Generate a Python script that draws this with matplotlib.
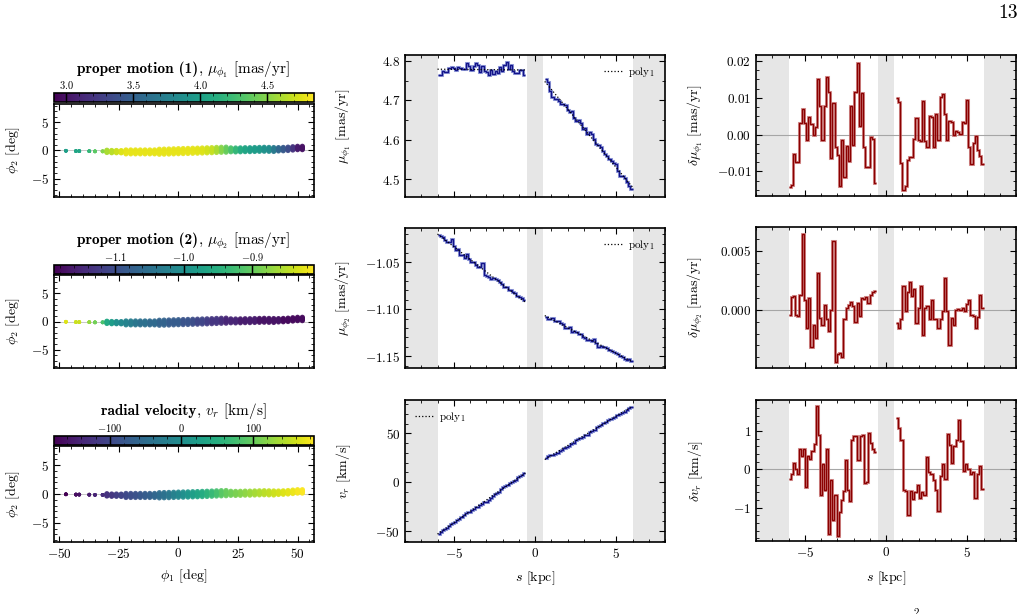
import numpy as np
import matplotlib.pyplot as plt
from matplotlib.ticker import MultipleLocator, AutoMinorLocator
from matplotlib.colors import Normalize

plt.rcParams['font.family'] = 'serif'
plt.rcParams['font.serif'] = ['cmr10']
plt.rcParams['mathtext.fontset'] = 'cm'
plt.rcParams['axes.formatter.use_mathtext'] = True

# ---- stream stars (left column) ----
phi1 = [-47.2, -43.0, -41.6, -37.4, -35.0, -31.8,
        -30, -28, -26, -24, -22, -20, -18, -16, -14, -12, -10, -8, -6, -4, -2,
        0, 2, 4, 6, 8, 10, 12, 14, 16, 18, 20, 22, 24, 26, 28, 30, 32, 34, 36,
        38, 40, 42, 44, 46, 48, 50, 52]
phi2 = [-0.05, -0.1, -0.1, -0.12, -0.15, -0.15,
        -0.15, -0.2, -0.2, -0.22, -0.25, -0.25, -0.25, -0.25, -0.25, -0.25, -0.25,
        -0.22, -0.2, -0.18, -0.15, -0.12, -0.1, -0.08, -0.05, -0.03, 0.0, 0.03,
        0.06, 0.1, 0.13, 0.15, 0.12, 0.1, 0.12, 0.15, 0.15, 0.18, 0.2, 0.22,
        0.2, 0.18, 0.22, 0.25, 0.3, 0.38, 0.45, 0.45]
phi2_width = [0, 0, 0, 0, 0, 0,
              0.4, 0.4, 0.4, 0.4, 0.7, 0.7, 0.7, 0.7, 0.7, 0.7, 0.7,
              0.9, 0.9, 0.9, 0.9, 0.9, 0.9, 0.9, 0.9, 0.9, 0.9, 0.9, 0.9, 0.9, 0.9, 0.9,
              0.7, 0.7, 0.7, 0.7, 0.7, 0.7, 0.7, 0.7, 0.7, 0.7,
              0.6, 0.6, 0.6, 0.6, 0.6, 0.6]
pm1_star = [4.0, 4.05, 4.05, 4.2, 4.35, 4.5,
            4.6, 4.65, 4.7, 4.75, 4.78, 4.78, 4.78, 4.78, 4.78, 4.78, 4.78, 4.78,
            4.78, 4.78, 4.78, 4.78, 4.78, 4.78, 4.77, 4.76, 4.75, 4.72, 4.68, 4.6,
            4.5, 4.4, 4.3, 4.2, 4.1, 4.05, 4.0, 3.98, 3.95, 3.9, 3.85, 3.7, 3.55,
            3.45, 3.35, 3.2, 3.05, 3.0]
pm2_star = [-0.83, -0.84, -0.84, -0.87, -0.89, -0.92,
            -0.96, -0.98, -1.0, -1.01, -1.02, -1.03, -1.04, -1.05, -1.05, -1.06,
            -1.06, -1.07, -1.07, -1.08, -1.08, -1.08, -1.09, -1.09, -1.10, -1.11,
            -1.11, -1.12, -1.13, -1.13, -1.14, -1.15, -1.15, -1.15, -1.16, -1.16,
            -1.16, -1.16, -1.17, -1.17, -1.17, -1.17, -1.17, -1.18, -1.18, -1.18,
            -1.18, -1.18]
vr_star = [-178, -165, -162, -150, -140, -132,
           -125, -120, -112, -105, -98, -92, -86, -80, -73, -66, -58, -50, -42,
           -32, -20, -8, 3, 14, 25, 36, 46, 56, 66, 78, 90, 100, 106, 112, 118,
           124, 130, 136, 142, 147, 152, 157, 162, 166, 170, 175, 180, 183]

# ---- binned tracks along s [kpc] ----
arm_left = (-6.0, -0.6)
arm_right = (0.6, 6.0)

# poly1 fits, value at start / end of each arm
fit_pm1 = [(4.779, 4.777), (4.748, 4.480)]
fit_pm2 = [(-1.0199, -1.0924), (-1.1067, -1.1560)]
fit_vr = [(-52.9, 9.4), (23.2, 77.7)]

resid_pm1_left = [-0.0142, -0.0136, -0.0054, -0.0074, -0.0074, 0.0030, 0.0070, 0.0030,
                  -0.0014, 0.0048, 0.0028, 0.0000, 0.0020, 0.0152, 0.0077, -0.0014,
                  0.0077, 0.0157, 0.0116, -0.0065, 0.0086, -0.0035, -0.0056, -0.0140,
                  -0.0014, -0.0115, -0.0031, -0.0072, 0.0077, -0.0029, 0.0116, 0.0195,
                  0.0023, 0.0113, -0.0033, -0.0088, -0.0088, -0.0006, -0.0011, -0.0133]
resid_pm1_right = [0.0098, 0.0089, -0.0077, -0.0151, -0.0140, -0.0070, -0.0060, -0.0060,
                   -0.0011, 0.0045, -0.0014, -0.0017, 0.0091, -0.0017, -0.0033, 0.0050,
                   0.0048, -0.0035, 0.0055, -0.0016, 0.0102, 0.0111, 0.0055, -0.0014,
                   0.0037, 0.0035, 0.0000, 0.0010, 0.0008, 0.0002, 0.0034, 0.0032,
                   0.0093, -0.0035, -0.0081, -0.0024, -0.0005, -0.0041, -0.0059, -0.0079]
resid_pm2_left = [-0.0004, 0.0011, 0.0012, -0.0004, -0.0005, 0.0013, 0.0064, 0.0008,
                  -0.0015, 0.0010, -0.0031, -0.0013, -0.0024, 0.0031, -0.0007, -0.0013,
                  0.0004, -0.0008, -0.0018, 0.0000, 0.0058, -0.0044, -0.0037, -0.0036,
                  -0.0040, -0.0008, 0.0002, 0.0004, 0.0007, 0.0003, -0.0010, 0.0006,
                  -0.0005, 0.0010, 0.0009, 0.0011, 0.0006, 0.0013, 0.0015, 0.0016]
resid_pm2_right = [-0.0011, -0.0015, -0.0008, 0.0020, -0.0001, 0.0015, 0.0024, 0.0012,
                   0.0018, -0.0011, 0.0002, 0.0020, -0.0021, 0.0002, 0.0003, -0.0008,
                   0.0008, -0.0008, -0.0008, -0.0015, -0.0008, -0.0001, 0.0027, -0.0001,
                   -0.0030, -0.0007, -0.0013, 0.0000, 0.0001, 0.0000, 0.0002, -0.0001,
                   0.0005, 0.0008, -0.0004, -0.0005, -0.0015, -0.0006, 0.0013, 0.0002]
resid_vr_left = [-0.24, -0.11, 0.17, 0.0, -0.11, 0.52, 0.34, 0.52, -0.46, 0.34, 0.28,
                 0.48, 0.67, 1.65, 0.89, -0.68, 0.13, -0.53, 0.54, -1.69, -0.29, -1.32,
                 -0.68, -1.73, -1.12, -0.81, -0.57, 0.25, -0.53, -0.83, 0.76, 0.86, 0.86,
                 0.24, 0.86, 0.89, -0.36, -0.33, 0.95, 0.70, 0.54, 0.45]
resid_vr_right = [1.35, 1.07, 0.76, -0.55, -0.57, -1.20, -0.57, -0.77, -0.60, -0.42,
                  -0.74, -0.60, -0.66, 0.32, -0.07, -0.11, -0.27, -0.53, -1.09, -0.18,
                  0.13, -0.24, 0.92, 0.63, 0.17, 0.60, 0.76, 1.30, 0.74, -0.03, 0.13,
                  0.02, -0.11, -0.07, -0.74, -0.11, 0.08, -0.50]

rows = [
    dict(tbold='proper motion (1)', trest=r', $\mu_{\phi_1}$ [mas/yr]',
         star=pm1_star, vmin=2.91, vmax=4.85, cticks=[3.0, 3.5, 4.0, 4.5],
         fits=fit_pm1, resid=[resid_pm1_left, resid_pm1_right],
         ylab=r'$\mu_{\phi_1}$ [mas/yr]', dlab=r'$\delta\mu_{\phi_1}$ [mas/yr]',
         ylim=(4.455, 4.815), ymaj=0.1, ymin=2, rylim=(-0.0167, 0.0216), rmaj=0.01, rmin=4,
         leg='upper right'),
    dict(tbold='proper motion (2)', trest=r', $\mu_{\phi_2}$ [mas/yr]',
         star=pm2_star, vmin=-1.189, vmax=-0.81, cticks=[-1.1, -1.0, -0.9],
         fits=fit_pm2, resid=[resid_pm2_left, resid_pm2_right],
         ylab=r'$\mu_{\phi_2}$ [mas/yr]', dlab=r'$\delta\mu_{\phi_2}$ [mas/yr]',
         ylim=(-1.1625, -1.0135), ymaj=0.05, ymin=5, rylim=(-0.0049, 0.0070), rmaj=0.005, rmin=5,
         leg='upper right'),
    dict(tbold='radial velocity', trest=r', $v_r$ [km/s]',
         star=vr_star, vmin=-178, vmax=185, cticks=[-100, 0, 100],
         fits=fit_vr, resid=[resid_vr_left, resid_vr_right],
         ylab=r'$v_r$ [km/s]', dlab=r'$\delta v_r$ [km/s]',
         ylim=(-61, 84), ymaj=50, ymin=5, rylim=(-1.87, 1.81), rmaj=1, rmin=5,
         leg='upper left'),
]

# pixel boxes (x0, y0, x1, y1)
left_boxes = [(54, 104, 314, 197), (54, 275, 314, 368), (54, 446, 314, 542)]
cbar_boxes = [(54, 93, 314, 102), (54, 265, 314, 274), (54, 436, 314, 445)]
title_base = [73, 244, 415]
mid_boxes = [(405, 55, 665, 197), (405, 228, 665, 368), (405, 400, 665, 542)]
right_boxes = [(756, 55, 1016, 196), (756, 227, 1016, 368), (756, 400, 1016, 541)]

W, H = 1025, 614
fig = plt.figure(figsize=(W / 100, H / 100), dpi=100)
renderer = fig.canvas.get_renderer()


def px_axes(box):
    x0, y0, x1, y1 = box
    return fig.add_axes([x0 / W, 1 - y1 / H, (x1 - x0) / W, (y1 - y0) / H])


def style(ax):
    ax.tick_params(which='both', direction='in', top=True, right=True, labelsize=9.5)
    ax.tick_params(which='major', length=4.5, width=0.8)
    ax.tick_params(which='minor', length=2.3, width=0.6)
    for sp in ax.spines.values():
        sp.set_linewidth(1.2)


def title(xc, yb, bold, rest):
    t1 = fig.text(0, 1 - yb / H, bold, family='cmb10', fontsize=11, va='baseline')
    t2 = fig.text(0, 1 - yb / H, rest, fontsize=11, va='baseline')
    w1 = t1.get_window_extent(renderer).width
    w2 = t2.get_window_extent(renderer).width
    x0 = xc - (w1 + w2) / 2
    t1.set_x(x0 / W)
    t2.set_x((x0 + w1) / W)


x_all = np.array(phi1)
y_mid = np.array(phi2)
half = np.array(phi2_width) / 2
sizes = np.where(half > 0, 14, 7)
gray_spans = [(-8, -6), (-0.5, 0.5), (6, 8)]

for i, r in enumerate(rows):
    last = i == len(rows) - 1

    # left: stream coloured by quantity
    ax = px_axes(left_boxes[i])
    style(ax)
    norm = Normalize(r['vmin'], r['vmax'])
    vals = np.array(r['star'])
    ax.axhline(0, color='0.75', lw=0.6, zorder=0)
    sc = None
    for dy in (-1, -0.5, 0, 0.5, 1):
        sc = ax.scatter(x_all, y_mid + dy * half, c=vals, cmap='viridis', norm=norm,
                        s=sizes, lw=0, alpha=0.9, zorder=2)
    ax.set_xlim(-52.2, 56.9)
    ax.set_ylim(-8.3, 8.3)
    ax.xaxis.set_major_locator(MultipleLocator(25))
    ax.xaxis.set_minor_locator(AutoMinorLocator(5))
    ax.yaxis.set_major_locator(MultipleLocator(5))
    ax.yaxis.set_minor_locator(AutoMinorLocator(5))
    ax.set_ylabel(r'$\phi_2$ [deg]', fontsize=10)
    ax.yaxis.set_label_coords(-0.123, 0.5)
    if last:
        ax.set_xlabel(r'$\phi_1$ [deg]', fontsize=10)
        ax.xaxis.set_label_coords(0.5, -0.27)
    else:
        ax.tick_params(labelbottom=False)

    cax = px_axes(cbar_boxes[i])
    cb = fig.colorbar(sc, cax=cax, orientation='horizontal', ticks=r['cticks'])
    cb.solids.set_alpha(1)
    cb.outline.set_linewidth(1.2)
    cax.xaxis.set_minor_locator(AutoMinorLocator(5))
    cax.tick_params(which='both', direction='in', top=True, bottom=True,
                    labeltop=True, labelbottom=False, labelsize=7.5, pad=1.5)
    cax.tick_params(which='major', length=6.5, width=0.9, color='k')
    cax.tick_params(which='minor', length=1.8, width=0.5)
    title(184, title_base[i], r['tbold'], r['trest'])

    # middle: binned track with poly1 fit; right: residuals
    axm = px_axes(mid_boxes[i])
    axr = px_axes(right_boxes[i])
    for a in (axm, axr):
        style(a)
        for g0, g1 in gray_spans:
            a.axvspan(g0, g1, color='0.9', lw=0, zorder=0)
        a.set_xlim(-8, 8)
        a.xaxis.set_major_locator(MultipleLocator(5))
        a.xaxis.set_minor_locator(AutoMinorLocator(5))
        if last:
            a.set_xlabel(r'$s$ [kpc]', fontsize=10)
        else:
            a.tick_params(labelbottom=False)
    axr.axhline(0, color='0.65', lw=0.8, zorder=1)

    for k, (arm, fit, res) in enumerate(zip([arm_left, arm_right], r['fits'], r['resid'])):
        res = np.array(res)
        edges = np.linspace(arm[0], arm[1], len(res) + 1)
        centres = 0.5 * (edges[1:] + edges[:-1])
        model = np.interp(centres, arm, fit)
        data = model + res
        axm.stairs(data, edges, color='#6a78cc', lw=2.2, alpha=0.7, baseline=None, zorder=2)
        axm.stairs(data, edges, color='#12128a', lw=1.0, baseline=None, zorder=3)
        axm.plot(arm, fit, ls=':', color='k', lw=0.9, zorder=4,
                 label=r'poly$_1$' if k == 0 else None)
        axr.stairs(res, edges, color='#c86e6e', lw=2.2, alpha=0.75, baseline=None, zorder=2)
        axr.stairs(res, edges, color='#8b0000', lw=1.0, baseline=None, zorder=3)

    axm.set_ylim(*r['ylim'])
    axm.yaxis.set_major_locator(MultipleLocator(r['ymaj']))
    axm.yaxis.set_minor_locator(AutoMinorLocator(r['ymin']))
    axm.set_ylabel(r['ylab'], fontsize=10)
    axm.yaxis.set_label_coords(-0.2, 0.5)
    axm.legend(loc=r['leg'], frameon=False, fontsize=8, handlelength=1.6,
               handletextpad=0.6, borderaxespad=0.5)

    axr.set_ylim(*r['rylim'])
    axr.yaxis.set_major_locator(MultipleLocator(r['rmaj']))
    axr.yaxis.set_minor_locator(AutoMinorLocator(r['rmin']))
    axr.set_ylabel(r['dlab'], fontsize=10)
    axr.yaxis.set_label_coords(-0.196, 0.5)
    if last:
        axm.xaxis.set_label_coords(0.5, -0.19)
        axr.xaxis.set_label_coords(0.5, -0.2)

fig.text(1008 / W, 1 - 13 / H, '13', ha='center', va='center', fontsize=14)
# caption fragment cut by the bottom edge, as in the reference
fig.text(916 / W, 1 - 608 / H, '2', ha='center', va='top', fontsize=8)

fig.savefig('out.png', dpi=100)
